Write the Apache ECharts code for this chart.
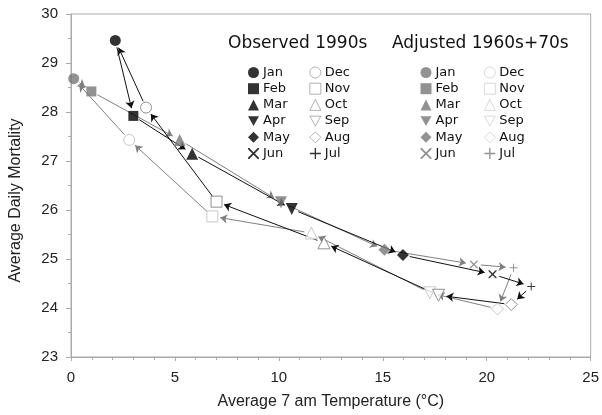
<!DOCTYPE html>
<html><head><meta charset="utf-8">
<script src="https://cdn.jsdelivr.net/npm/echarts@6/dist/echarts.min.js"></script>
<style>html,body{margin:0;padding:0;background:#fff}#c{width:602px;height:415px}</style>
</head><body><div id="c"></div>
<script>
const months = ['Jan','Feb','Mar','Apr','May','Jun','Jul','Aug','Sep','Oct','Nov','Dec'];
const obsTemp = [2.13, 3.0, 5.83, 10.62, 15.97, 20.28, 22.14, 21.18, 17.68, 12.17, 7.0, 3.61];
const obsMort = [29.46, 27.92, 27.15, 26.02, 25.08, 24.69, 24.44, 24.07, 24.26, 25.33, 26.17, 28.09];
const adjTemp = [0.13, 0.98, 5.23, 10.1, 15.08, 19.38, 21.29, 20.52, 17.26, 11.56, 6.8, 2.8];
const adjMort = [28.68, 28.42, 27.43, 26.16, 25.19, 24.89, 24.82, 23.98, 24.31, 25.53, 25.87, 27.43];
const xTicks = [0, 5, 10, 15, 20, 25];
const yTicks = [23, 24, 25, 26, 27, 28, 29, 30];

const X_PATH = 'path://M0,0L1.2,0L5,3.8L8.8,0L10,0L10,1.2L6.2,5L10,8.8L10,10L8.8,10L5,6.2L1.2,10L0,10L0,8.8L3.8,5L0,1.2Z';
const PLUS_PATH = 'path://M4.4,0H5.6V4.4H10V5.6H5.6V10H4.4V5.6H0V4.4H4.4Z';
const DOWN_TRI = 'path://M0,0L10,0L5,9Z';
const symbols = ['circle','rect','triangle',DOWN_TRI,'diamond',X_PATH,PLUS_PATH,'diamond',DOWN_TRI,'triangle','rect','circle'];
const sizes = [11,10,12,12,12,8,8,12,12,12,11,11];

const OBS_FILL = '#000', OBS_OPEN = '#777', ADJ_FILL = '#777', ADJ_OPEN = '#bbb';
const OBS_LINE = '#111', ADJ_LINE = '#808080';

function markerSeries(tag, temp, mort, fill, open) {
  return months.map((m, i) => {
    const isOpen = i >= 7;
    const style = isOpen
      ? {color: '#fff', borderColor: open, borderWidth: 1}
      : {color: fill, borderWidth: 0};
    return {
      name: m + tag, type: 'scatter', z: 5,
      symbol: symbols[i], symbolSize: sizes[i],
      itemStyle: style,
      data: [[temp[i], mort[i]]],
      emphasis: {disabled: true}
    };
  });
}

const obsMarkers = markerSeries('\u200b', obsTemp, obsMort, OBS_FILL, OBS_OPEN);
const adjMarkers = markerSeries('\u200c', adjTemp, adjMort, ADJ_FILL, ADJ_OPEN);

function legendCol(idx, tag, open, left, top) {
  return {
    orient: 'vertical', left: left, top: top,
    data: idx.map(i => i >= 7
      ? {name: months[i] + tag, itemStyle: {color: '#fff', borderColor: open, borderWidth: 0.7}}
      : {name: months[i] + tag}),
    itemWidth: 11, itemHeight: 11, itemGap: 3.2, padding: 0,
    selectedMode: false,
    formatter: n => n.replace(/[\u200b\u200c]/g, ''),
    textStyle: {fontFamily: 'DejaVu Sans', fontSize: 13, color: '#111', padding: [0,0,0,-1]}
  };
}
const col1 = [0,1,2,3,4,5], col2 = [11,10,9,8,7,6];

const option = {
  animation: false,
  backgroundColor: '#fff',
  grid: {left: 71, right: 7, top: 14, bottom: 56, show: true, borderColor: '#aaa', borderWidth: 1},
  title: [
    {text: 'Observed 1990s', left: 228, top: 35, padding: 0,
     textStyle: {fontFamily: 'DejaVu Sans', fontSize: 17, fontWeight: 'normal', color: '#111'}},
    {text: 'Adjusted 1960s+70s', left: 392, top: 35, padding: 0,
     textStyle: {fontFamily: 'DejaVu Sans', fontSize: 17, fontWeight: 'normal', color: '#111'}}
  ],
  legend: [
    legendCol(col1, '\u200b', OBS_OPEN, 248, 66),
    legendCol(col2, '\u200b', OBS_OPEN, 309.5, 66),
    legendCol(col1, '\u200c', ADJ_OPEN, 420.5, 66),
    legendCol(col2, '\u200c', ADJ_OPEN, 484, 66)
  ],
  xAxis: {
    type: 'value', min: xTicks[0], max: xTicks[xTicks.length-1], interval: 5,
    name: 'Average 7 am Temperature (\u00b0C)', nameLocation: 'middle', nameGap: 37,
    nameTextStyle: {fontFamily: 'Liberation Sans', fontSize: 16, color: '#222'},
    axisLine: {lineStyle: {color: '#aaa'}},
    axisTick: {length: 4, lineStyle: {color: '#aaa'}},
    minorTick: {show: true, splitNumber: 5, length: 3, lineStyle: {color: '#aaa'}},
    axisLabel: {fontFamily: 'Liberation Sans', fontSize: 15, color: '#222', margin: 13},
    splitLine: {show: false}
  },
  yAxis: {
    type: 'value', min: yTicks[0], max: yTicks[yTicks.length-1], interval: 1,
    name: 'Average Daily Mortality', nameLocation: 'middle', nameGap: 47,
    nameTextStyle: {fontFamily: 'Liberation Sans', fontSize: 16, color: '#222', padding: [0, 30, 0, 0]},
    axisLine: {show: true, lineStyle: {color: '#aaa'}},
    axisTick: {show: true, length: 5, lineStyle: {color: '#aaa'}},
    minorTick: {show: true, splitNumber: 2, length: 3, lineStyle: {color: '#aaa'}},
    axisLabel: {fontFamily: 'Liberation Sans', fontSize: 15, color: '#222', margin: 13},
    splitLine: {show: false}
  },
  series: [
    {id: 'adjArrows', type: 'lines', coordinateSystem: 'cartesian2d', z: 2,
     symbol: ['none','arrow'], symbolSize: 7, silent: true,
     lineStyle: {color: ADJ_LINE, width: 1, opacity: 1}, data: []},
    {id: 'obsArrows', type: 'lines', coordinateSystem: 'cartesian2d', z: 3,
     symbol: ['none','arrow'], symbolSize: 7, silent: true,
     lineStyle: {color: OBS_LINE, width: 1, opacity: 1}, data: []}
  ].concat(adjMarkers, obsMarkers)
};

const chart = echarts.init(document.getElementById('c'), null, {renderer: 'canvas'});
chart.setOption(option);

function segments(temp, mort) {
  const pts = temp.map((t, i) => chart.convertToPixel({gridIndex: 0}, [t, mort[i]]));
  const out = [];
  for (let i = 0; i < pts.length; i++) {
    const a = pts[i], b = pts[(i + 1) % pts.length];
    const dx = b[0] - a[0], dy = b[1] - a[1];
    const len = Math.sqrt(dx * dx + dy * dy);
    const s = [a[0] + dx / len * 7, a[1] + dy / len * 7];
    const e = [b[0] - dx / len * 8, b[1] - dy / len * 8];
    out.push({coords: [chart.convertFromPixel({gridIndex: 0}, s), chart.convertFromPixel({gridIndex: 0}, e)]});
  }
  return out;
}
chart.setOption({series: [
  {id: 'adjArrows', data: segments(adjTemp, adjMort)},
  {id: 'obsArrows', data: segments(obsTemp, obsMort)}
]});
</script></body></html>
